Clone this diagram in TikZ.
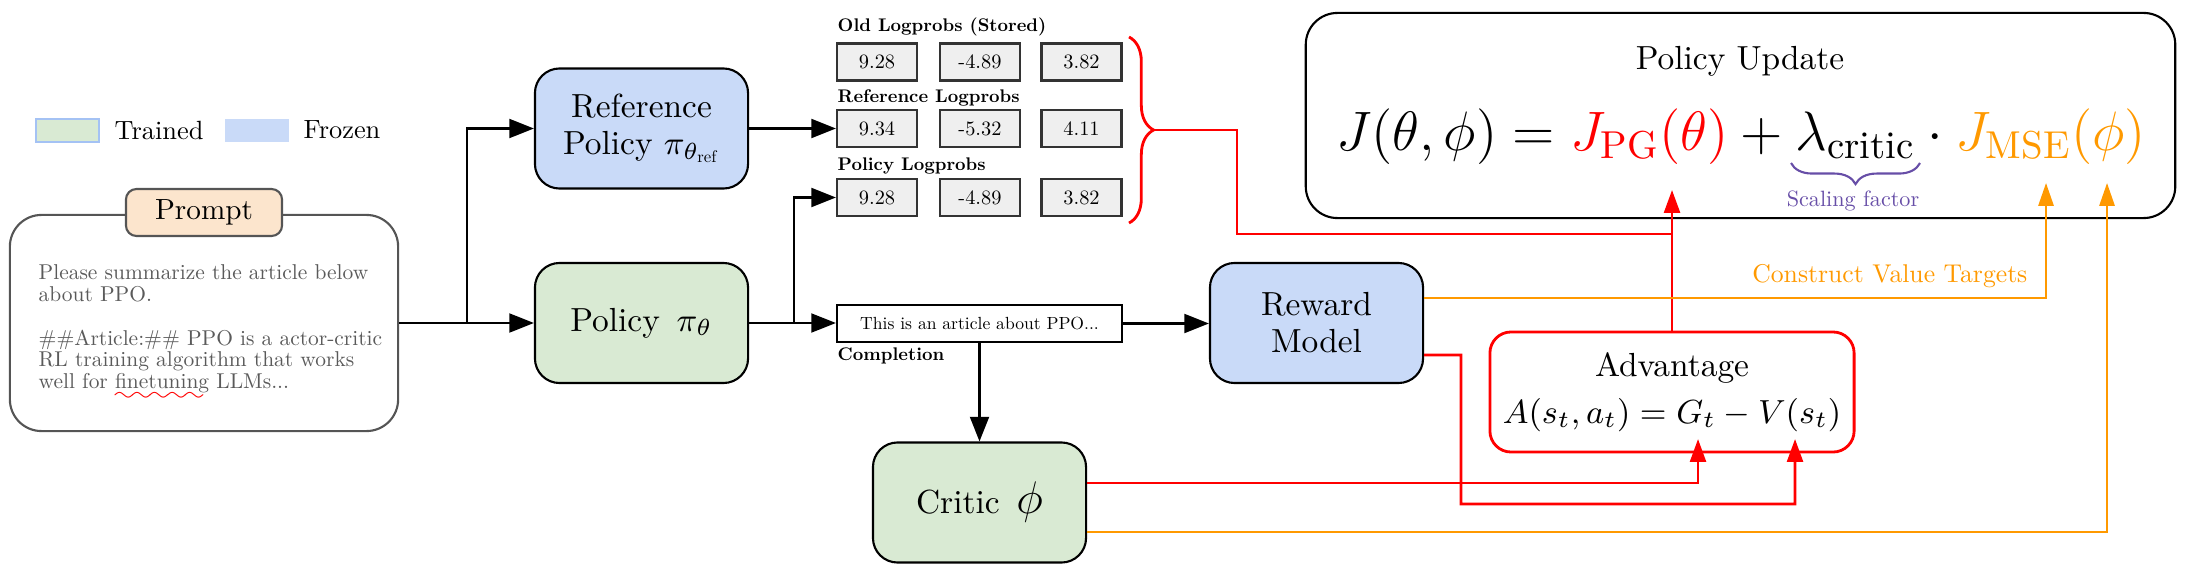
\RequirePackage{fix-cm}
\documentclass[tikz,border=0pt]{standalone}
\usepackage{amsmath,amssymb}
\usepackage{fontspec}
\setmainfont{lmroman10-regular.otf}[BoldFont=lmroman10-bold.otf, ItalicFont=lmroman10-italic.otf]
\usepackage{tikz}
\usetikzlibrary{arrows.meta,decorations.pathreplacing,calc}

\definecolor{trainedgreen}{HTML}{D9EAD3}
\definecolor{frozenblue}{HTML}{C9DAF8}
\definecolor{legendedge}{HTML}{A4C2F4}
\definecolor{promptpeach}{HTML}{FCE5CD}
\definecolor{promptedge}{HTML}{555555}
\definecolor{prompttext}{HTML}{5A5A5A}
\definecolor{loggray}{HTML}{EFEFEF}
\definecolor{advred}{HTML}{FF0000}
\definecolor{valorange}{HTML}{FF9900}
\definecolor{scalepurple}{HTML}{674EA7}

\font\wavefont=lasy6
\newcommand{\spellwave}[1]{\setbox0\hbox{#1}\rlap{\lower3.4pt\hbox to\wd0{\color{advred}\leaders\hbox{\wavefont\char58}\hfill}}#1}

\begin{document}
\begin{tikzpicture}[x=0.01cm, y=-0.01cm, >={Triangle[length=7pt,width=5.4pt]},
  model/.style={draw, line width=0.6pt, rounded corners=7pt, align=center, inner sep=0pt,
    minimum width=2.13cm, minimum height=1.2cm, font=\fontsize{9.5}{10.5}\selectfont},
  logbox/.style={draw=black!80, line width=0.6pt, fill=loggray, inner sep=0pt,
    minimum width=0.8cm, minimum height=0.37cm, font=\fontsize{5.8}{7}\selectfont},
  tag/.style={inner sep=0pt, font=\fontsize{5.2}{6}\selectfont\bfseries},
  swatch/.style={inner sep=0pt, minimum width=0.63cm, minimum height=0.23cm, line width=0.5pt},
  flow/.style={line width=0.6pt},
  sig/.style={draw=advred, line width=0.8pt, >={Triangle[length=6.5pt,width=4.5pt]}},
  val/.style={draw=valorange, line width=0.7pt, >={Triangle[length=6.5pt,width=4.3pt]}}]
  \useasboundingbox (0,0) rectangle (2192,576);
  % legend
  \node[swatch, fill=trainedgreen, draw=legendedge] (legtrained) at (67.5,130.5) {};
  \node[anchor=west, inner sep=0pt, font=\fontsize{7.5}{9}\selectfont] (legtrainedtxt) at (114,130) {Trained};
  \node[swatch, fill=frozenblue] (legfrozen) at (257,130.5) {};
  \node[anchor=west, inner sep=0pt, font=\fontsize{7.5}{9}\selectfont] (legfrozentxt) at (303,130) {Frozen};
  % prompt
  \node[draw=promptedge, line width=0.6pt, rounded corners=9pt, minimum width=3.88cm, minimum height=2.16cm] (prompt) at (204,323) {};
  \node[anchor=north west, inner sep=0pt, align=left, text=prompttext, font=\fontsize{6.1}{6.2}\selectfont] (prompttxt) at (38,264)
    {Please summarize the article below\\about PPO.\\[6.2pt]\#\#Article:\#\# PPO is a actor-critic\\RL training algorithm that works\\well for \spellwave{finetuning} LLMs...};
  \node[draw=promptedge, fill=promptpeach, line width=0.6pt, rounded corners=3pt, inner sep=0pt,
    minimum width=1.56cm, minimum height=0.47cm, font=\fontsize{8.3}{9}\selectfont] (prompttag) at (204,212.5) {Prompt};
  % models
  \node[model, fill=frozenblue] (ref) at (641.5,128.5) {Reference\\Policy $\pi_{\theta_{\mathrm{ref}}}$};
  \node[model, fill=trainedgreen] (policy) at (641.5,323) {Policy\enspace$\pi_\theta$};
  \node[model, fill=frozenblue] (reward) at (1316.5,323) {Reward\\Model};
  \node[model, fill=trainedgreen] (critic) at (979.5,502.5) {Critic\enspace{\fontsize{13}{13}\selectfont$\phi$}};
  % completion
  \node[draw, line width=0.6pt, fill=white, inner sep=0pt, minimum width=2.85cm, minimum height=0.37cm,
    font=\fontsize{5}{6}\selectfont] (compl) at (979.5,323.5) {This is an article about PPO...};
  \node[tag, anchor=base west] (compllbl) at (837,360) {Completion};
  % logprobs
  \foreach \r/\yy/\a/\b/\c in {old/62/9.28/-4.89/3.82, refl/128.5/9.34/-5.32/4.11, pol/197.5/9.28/-4.89/3.82} {
    \node[logbox] (\r1) at (877,\yy) {\a};
    \node[logbox] (\r2) at (980,\yy) {\b};
    \node[logbox] (\r3) at (1081.5,\yy) {\c};
  }
  \node[tag, anchor=base west] (oldlbl) at (837,32) {Old Logprobs (Stored)};
  \node[tag, anchor=base west] (refllbl) at (837,103) {Reference Logprobs};
  \node[tag, anchor=base west] (pollbl) at (837,171) {Policy Logprobs};
  \draw[advred, line width=0.8pt, decorate, decoration={brace, amplitude=7pt}] (1129,37) -- (1129,223);
  \coordinate (bracetip) at (1154,130);
  % policy update
  \node[draw, line width=0.6pt, rounded corners=9pt, minimum width=8.69cm, minimum height=2.05cm] (update) at (1740.5,115.5) {};
  \node[anchor=base, inner sep=0pt, font=\fontsize{9.5}{11}\selectfont] (updtitle) at (1740,70) {Policy Update};
  \node[anchor=base, inner sep=0pt, font=\fontsize{15.8}{18}\selectfont] (updeq) at (1741,150)
    {$J(\theta,\phi) = \textcolor{advred}{J_{\mathrm{PG}}(\theta)} + \lambda_{\mathrm{critic}} \cdot \textcolor{valorange}{J_{\mathrm{MSE}}(\phi)}$};
  \draw[scalepurple, line width=0.6pt, decorate, decoration={brace, mirror, amplitude=6pt}] (1791,163) -- (1920,163);
  \node[inner sep=0pt, text=scalepurple, font=\fontsize{6.3}{7}\selectfont] (scalelbl) at (1853,201) {Scaling factor};
  % advantage
  \node[draw=advred, line width=0.8pt, rounded corners=6pt, align=center, inner sep=0pt, minimum width=3.64cm,
    minimum height=1.2cm, font=\fontsize{9.5}{13.5}\selectfont] (adv) at (1672,392) {Advantage\\$A(s_t,a_t) = G_t - V(s_t)$};
  % black flow
  \coordinate (split1) at (467,323);
  \coordinate (split2) at (794,323);
  \draw[flow, ->] (prompt.east) -- (policy.west);
  \draw[flow, ->] (split1) |- (ref.west);
  \draw[flow, ->] (ref.east) -- (refl1.west);
  \draw[flow, ->] (policy.east) -- (policy.east -| compl.west);
  \draw[flow, ->] (split2) |- (pol1.west);
  \draw[flow, ->] (compl.east) -- (compl.east -| reward.west);
  \draw[flow, ->] (compl.south) -- (critic.north);
  % red signals
  \coordinate (pgtip) at (1672,190);
  \coordinate (gtip) at (1698,439);
  \coordinate (vtip) at (1795,439);
  \draw[sig] (bracetip) -- (1237,130) |- (1672,234);
  \draw[sig, ->] (adv.north) -- (pgtip);
  \draw[sig, ->] ([yshift=0.195cm]critic.east) -| (gtip);
  \draw[sig, ->] ([yshift=-0.32cm]reward.east) -- (1461,355) |- (1795,504) -- (vtip);
  % orange value targets
  \coordinate (mse1) at (2046,183);
  \coordinate (mse2) at (2107,183);
  \draw[val, ->] ([yshift=0.25cm]reward.east) -| (mse1);
  \draw[val, ->] ([yshift=-0.295cm]critic.east) -| (mse2);
  \node[anchor=base east, inner sep=0pt, text=valorange, font=\fontsize{7.3}{8}\selectfont] (valtxt) at (2028,282) {Construct Value Targets};
\end{tikzpicture}
\end{document}
